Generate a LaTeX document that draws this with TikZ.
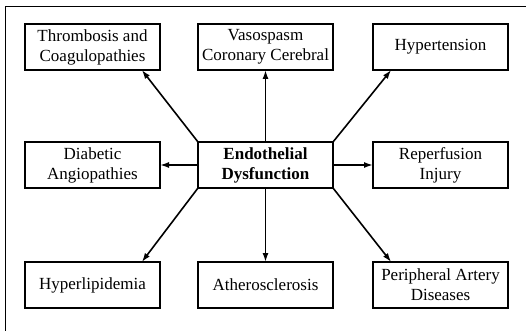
\documentclass[tikz,border=0pt]{standalone}
\usepackage{fontspec}
\setmainfont{Liberation Serif}
\usetikzlibrary{arrows.meta,positioning}

\begin{document}
\begin{tikzpicture}[x=1pt,y=1pt]
            \tikzstyle{every node}+=[inner sep=0pt, outer sep=0pt]
            \tikzstyle{cond}=[draw, line width=1.5pt, minimum width=135, minimum height=46, align=center, font=\fontsize{17}{20}\selectfont]
            \tikzstyle{link}=[line width=1.6pt, -{Latex[length=9pt,width=6pt]}]
            \useasboundingbox (0,0) rectangle (526,-331);
            % frame
            \draw [line width=1pt] (5,-331) -- (5,-7) -- (526,-7);
            % boxes
            \node [cond] (thromb) at (92.5,-47) {Thrombosis and\\Coagulopathies};
            \node [cond] (vaso) at (265.5,-47) {Vasospasm\\Coronary Cerebral};
            \node [cond] (hyper) at (440.5,-47) {Hypertension};
            \node [cond] (diab) at (92.5,-165) {Diabetic\\Angiopathies};
            \node [cond, font=\fontsize{17}{20}\selectfont\bfseries] (endo) at (265.5,-165) {Endothelial\\Dysfunction};
            \node [cond] (reper) at (440.5,-165) {Reperfusion\\Injury};
            \node [cond] (lipid) at (92.5,-285) {Hyperlipidemia};
            \node [cond] (athero) at (265.5,-285) {Atherosclerosis};
            \node [cond] (periph) at (440.5,-285) {Peripheral Artery\\Diseases};
            % arrows
            \draw [link] (endo.north west) -- (thromb.-25);
            \draw [link] (endo.north) -- (vaso.south);
            \draw [link] (endo.north east) -- (hyper.-155);
            \draw [link] (endo.west) -- (diab.east);
            \draw [link] (endo.east) -- (reper.west);
            \draw [link] (endo.south west) -- (lipid.25);
            \draw [link] (endo.south) -- (athero.north);
            \draw [link] (endo.south east) -- (periph.155);
\end{tikzpicture}
\end{document}
